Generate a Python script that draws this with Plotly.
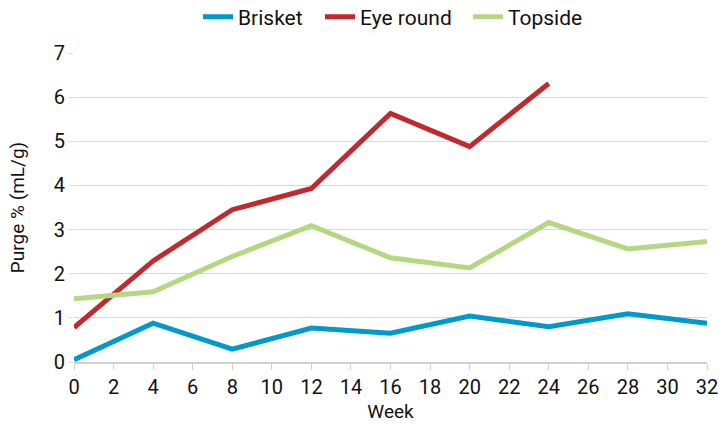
import plotly.graph_objects as go

weeks = [0, 4, 8, 12, 16, 20, 24, 28, 32]
brisket = [0.05, 0.88, 0.29, 0.77, 0.65, 1.04, 0.80, 1.09, 0.88]
eye_round_weeks = [0, 4, 8, 12, 16, 20, 24]
eye_round = [0.78, 2.29, 3.45, 3.93, 5.63, 4.88, 6.31]
topside = [1.43, 1.59, 2.39, 3.09, 2.36, 2.13, 3.16, 2.56, 2.73]

x_ticks = list(range(0, 33, 2))
y_ticks = list(range(0, 8))

FONT = "Roboto, Liberation Sans, sans-serif"

fig = go.Figure()
fig.add_trace(go.Scatter(x=weeks, y=brisket, mode="lines", name="Brisket",
                         line=dict(color="#0099CC", width=5), legend="legend"))
fig.add_trace(go.Scatter(x=eye_round_weeks, y=eye_round, mode="lines", name="Eye round",
                         line=dict(color="#C0292D", width=5), legend="legend2"))
fig.add_trace(go.Scatter(x=weeks, y=topside, mode="lines", name="Topside",
                         line=dict(color="#B4D882", width=5), legend="legend3"))

leg_common = dict(orientation="h", xref="container", yref="container", y=1 - 17/424,
                  yanchor="middle", xanchor="left", font=dict(size=21), itemwidth=30,
                  bgcolor="rgba(0,0,0,0)")

fig.update_layout(
    width=719, height=424,
    margin=dict(l=74, r=12, t=53, b=62, autoexpand=False),
    paper_bgcolor="white", plot_bgcolor="white",
    font=dict(family=FONT, size=20, color="#111111"),
    legend=dict(leg_common, x=(200 - 2) / 719),
    legend2=dict(leg_common, x=(322 - 2) / 719),
    legend3=dict(leg_common, x=(470 - 2) / 719),
    showlegend=True,
)
fig.update_xaxes(range=[0, 32], tickvals=x_ticks, showgrid=False, automargin=False,
                 showline=True, linecolor="#d0d0d0", linewidth=2,
                 ticks="outside", ticklen=6, tickcolor="#d0d0d0", tickwidth=1,
                 ticklabeloverflow="allow", tickfont=dict(size=20),
                 title=dict(text="Week", standoff=7, font=dict(size=19)), zeroline=False)
fig.update_yaxes(range=[0, 7], tickvals=y_ticks, showgrid=True, gridcolor="#d9d9d9", gridwidth=1,
                 automargin=False, tickfont=dict(size=20),
                 ticks="outside", ticklen=4, tickcolor="#d9d9d9",
                 title=dict(text="Purge % (mL/g)", standoff=24, font=dict(size=19)), zeroline=False)

fig.write_html("out.html", config={"displayModeBar": False},
               post_script="document.body.style.margin='0';")
